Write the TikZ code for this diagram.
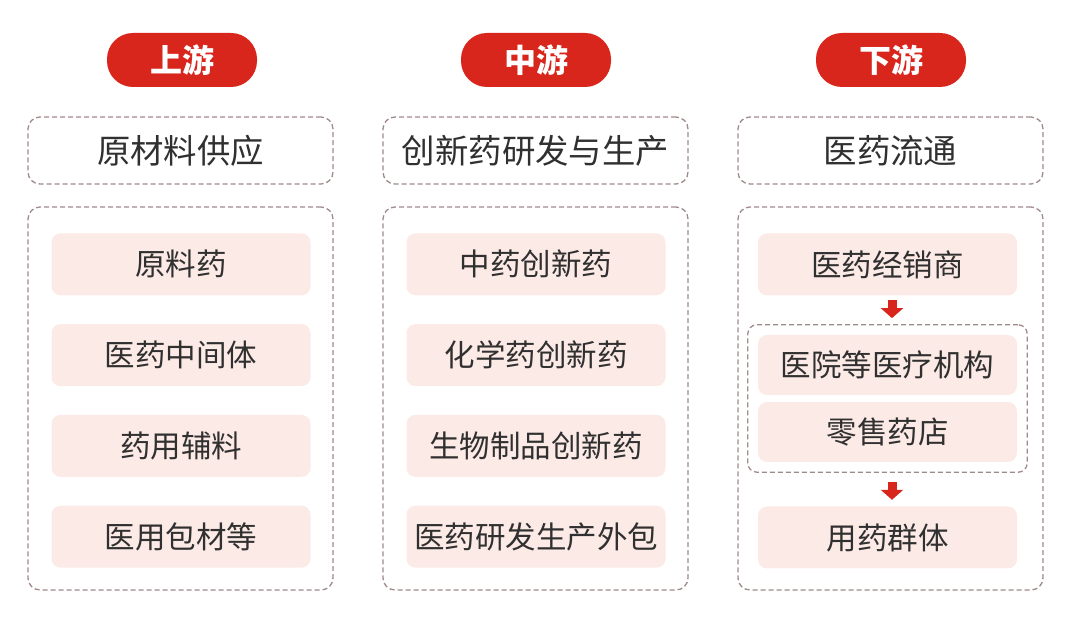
\documentclass[tikz,border=0pt]{standalone}
\usepackage{fontspec}
\setmainfont{Noto Sans CJK SC}
\usepackage{xcolor}
\usepackage{tikz}
\usetikzlibrary{positioning,fit,arrows.meta}

\definecolor{hdred}{HTML}{D8261C}
\definecolor{itempink}{HTML}{FCEAE6}
\definecolor{dashgray}{HTML}{A08A8A}
\definecolor{txtgray}{HTML}{303030}

\begin{document}
\begin{tikzpicture}[x=1pt, y=-1pt,
    tag/.style={fill=hdred, text=white, rounded corners=26pt, minimum width=150pt, minimum height=54pt, font=\fontsize{32}{36}\selectfont\bfseries},
    frame/.style={draw=dashgray, line width=1.3pt, dash pattern=on 5pt off 3pt, rounded corners=12pt},
    item/.style={fill=itempink, rounded corners=9pt, minimum width=259pt, minimum height=62pt, text=txtgray, font=\fontsize{30.5}{34}\selectfont},
    flow/.style={draw=hdred, line width=9pt, -{Triangle[length=10pt, width=22pt]}}]
    \useasboundingbox (0,0) rectangle (1080,617);

    % Stage tags
    \foreach \name/\x/\txt in {up/182/上游, mid/536/中游, down/891/下游} {
        \node [tag] (\name) at (\x,60) {\txt};
    }

    % Stage titles and frames
    \foreach \name/\x/\txt in {up/180.5/原材料供应, mid/535.5/创新药研发与生产, down/890.5/医药流通} {
        \node [frame, minimum width=305pt, minimum height=67pt, text=txtgray, font=\fontsize{33.4}{38}\selectfont] (\name T) at (\x,150.5) {\txt};
        \node [frame, minimum width=305pt, minimum height=383pt] (\name F) at (\x,398.5) {};
    }

    % Upstream items
    \foreach \txt [count=\i] in {原料药, 医药中间体, 药用辅料, 医用包材等} {
        \node [item] (u\i) at (181,173.5+90.8*\i) {\txt};
    }

    % Midstream items
    \foreach \txt [count=\i] in {中药创新药, 化学药创新药, 生物制品创新药, 医药研发生产外包} {
        \node [item] (m\i) at (536,173.5+90.8*\i) {\txt};
    }

    % Downstream chain
    \node [item] (d1) at (887.5,264.5) {医药经销商};
    \node [item, minimum height=60pt] (d2) at (887.5,365) {医院等医疗机构};
    \node [item, minimum height=60pt] (d3) at (887.5,432) {零售药店};
    \node [frame, fit=(d2)(d3), inner sep=10pt, rounded corners=9pt] (grp) {};
    \node [item] (d4) at (887.5,537.5) {用药群体};

    \draw [flow, shorten <=4.5pt, shorten >=6pt] ([xshift=4.5pt]d1.south) -- ([xshift=4.5pt]grp.north);
    \draw [flow, shorten <=9pt, shorten >=6.5pt] ([xshift=4.5pt]grp.south) -- ([xshift=4.5pt]d4.north);
\end{tikzpicture}
\end{document}
